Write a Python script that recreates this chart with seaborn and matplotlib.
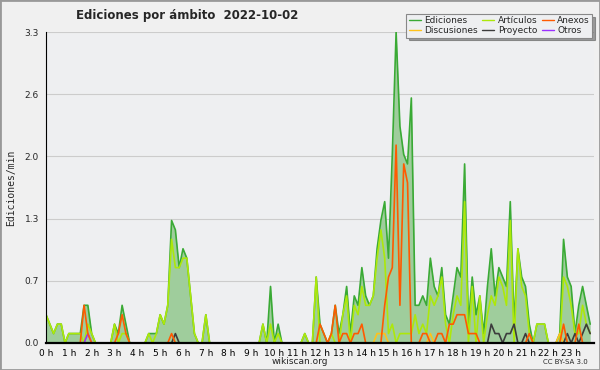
import numpy as np
import pandas as pd
import seaborn as sns
from matplotlib import pyplot as plt
from matplotlib.ticker import MultipleLocator, FixedLocator
from matplotlib.patches import Rectangle

# edits per minute, one value every 10 minutes (6 per hour)
ediciones = [
    0.3, 0.2, 0.1, 0.2, 0.2, 0.0,   0.1, 0.1, 0.1, 0.1, 0.4, 0.4,
    0.1, 0.0, 0.0, 0.0, 0.0, 0.0,   0.2, 0.1, 0.4, 0.2, 0.0, 0.0,
    0.0, 0.0, 0.0, 0.1, 0.1, 0.1,   0.3, 0.2, 0.4, 1.3, 1.2, 0.8,
    1.0, 0.9, 0.5, 0.1, 0.0, 0.0,   0.3, 0.0, 0.0, 0.0, 0.0, 0.0,
    0.0, 0.0, 0.0, 0.0, 0.0, 0.0,   0.0, 0.0, 0.0, 0.2, 0.0, 0.6,
    0.0, 0.2, 0.0, 0.0, 0.0, 0.0,   0.0, 0.0, 0.1, 0.0, 0.0, 0.7,
    0.2, 0.1, 0.0, 0.1, 0.4, 0.1,   0.3, 0.6, 0.1, 0.5, 0.4, 0.8,
    0.5, 0.4, 0.5, 1.0, 1.3, 1.5,   0.9, 2.0, 3.3, 2.3, 2.0, 1.9,
    2.6, 0.4, 0.4, 0.5, 0.4, 0.9,   0.6, 0.5, 0.8, 0.3, 0.2, 0.5,
    0.8, 0.7, 1.9, 0.2, 0.7, 0.3,   0.5, 0.1, 0.6, 1.0, 0.5, 0.8,
    0.7, 0.6, 1.5, 0.2, 1.0, 0.7,   0.6, 0.2, 0.0, 0.2, 0.2, 0.2,
    0.0, 0.0, 0.0, 0.1, 1.1, 0.7,   0.6, 0.1, 0.4, 0.6, 0.4, 0.2,
]
articulos = [
    0.3, 0.2, 0.1, 0.2, 0.2, 0.0,   0.1, 0.1, 0.1, 0.1, 0.0, 0.2,
    0.1, 0.0, 0.0, 0.0, 0.0, 0.0,   0.2, 0.0, 0.1, 0.1, 0.0, 0.0,
    0.0, 0.0, 0.0, 0.1, 0.0, 0.1,   0.3, 0.2, 0.4, 1.1, 0.8, 0.8,
    0.9, 0.9, 0.5, 0.1, 0.0, 0.0,   0.3, 0.0, 0.0, 0.0, 0.0, 0.0,
    0.0, 0.0, 0.0, 0.0, 0.0, 0.0,   0.0, 0.0, 0.0, 0.2, 0.0, 0.2,
    0.0, 0.1, 0.0, 0.0, 0.0, 0.0,   0.0, 0.0, 0.1, 0.0, 0.0, 0.7,
    0.0, 0.0, 0.0, 0.1, 0.0, 0.0,   0.3, 0.5, 0.0, 0.4, 0.3, 0.6,
    0.4, 0.4, 0.5, 0.9, 1.2, 0.9,   0.1, 0.2, 0.0, 0.1, 0.1, 0.1,
    0.1, 0.3, 0.1, 0.2, 0.1, 0.5,   0.4, 0.5, 0.7, 0.2, 0.0, 0.3,
    0.5, 0.4, 1.5, 0.0, 0.6, 0.0,   0.5, 0.0, 0.3, 0.5, 0.4, 0.7,
    0.6, 0.4, 1.3, 0.0, 1.0, 0.6,   0.5, 0.1, 0.0, 0.2, 0.2, 0.2,
    0.0, 0.0, 0.0, 0.0, 0.7, 0.6,   0.4, 0.1, 0.1, 0.4, 0.2, 0.1,
]
anexos = [
    0.0, 0.0, 0.0, 0.0, 0.0, 0.0,   0.0, 0.0, 0.0, 0.0, 0.4, 0.1,
    0.0, 0.0, 0.0, 0.0, 0.0, 0.0,   0.0, 0.1, 0.3, 0.1, 0.0, 0.0,
    0.0, 0.0, 0.0, 0.0, 0.0, 0.0,   0.0, 0.0, 0.0, 0.1, 0.0, 0.0,
    0.0, 0.0, 0.0, 0.0, 0.0, 0.0,   0.0, 0.0, 0.0, 0.0, 0.0, 0.0,
    0.0, 0.0, 0.0, 0.0, 0.0, 0.0,   0.0, 0.0, 0.0, 0.0, 0.0, 0.0,
    0.0, 0.0, 0.0, 0.0, 0.0, 0.0,   0.0, 0.0, 0.0, 0.0, 0.0, 0.0,
    0.2, 0.1, 0.0, 0.1, 0.4, 0.0,   0.1, 0.1, 0.0, 0.1, 0.1, 0.2,
    0.0, 0.0, 0.0, 0.0, 0.0, 0.4,   0.7, 0.8, 2.1, 0.4, 1.9, 1.7,
    0.0, 0.0, 0.0, 0.1, 0.1, 0.0,   0.0, 0.1, 0.1, 0.0, 0.2, 0.2,
    0.3, 0.3, 0.3, 0.1, 0.1, 0.1,   0.0, 0.0, 0.0, 0.0, 0.0, 0.0,
    0.0, 0.0, 0.0, 0.0, 0.0, 0.0,   0.0, 0.1, 0.0, 0.0, 0.0, 0.0,
    0.0, 0.0, 0.0, 0.0, 0.2, 0.0,   0.0, 0.0, 0.2, 0.0, 0.0, 0.0,
]
discusiones = [0.0] * 144
for i in [87, 88, 89, 101, 135]:
    discusiones[i] = 0.1
proyecto = [0.0] * 144
for i, v in {34: 0.1, 117: 0.2, 118: 0.1, 119: 0.1, 121: 0.1, 122: 0.1, 123: 0.2,
             126: 0.1, 137: 0.1, 139: 0.1, 141: 0.1, 142: 0.2, 143: 0.1}.items():
    proyecto[i] = v
otros = [0.0] * 144
otros[11] = 0.1

hours = np.arange(144) / 6
hour_labels = [f'{h} h' for h in range(24)]
y_ticks = [0, 0.66, 1.32, 1.98, 2.64, 3.3]
y_labels = ['0.0', '0.7', '1.3', '2.0', '2.6', '3.3']

series = {'Ediciones': ediciones, 'Artículos': articulos, 'Anexos': anexos,
          'Discusiones': discusiones, 'Proyecto': proyecto, 'Otros': otros}
df = pd.concat([pd.DataFrame({'hora': hours, 'valor': v, 'ambito': k}) for k, v in series.items()])

cdict = {'Ediciones': '#3aaa35', 'Artículos': '#ade80a', 'Anexos': '#ff5a00',
         'Discusiones': '#ffc21a', 'Proyecto': '#3c3c3c', 'Otros': '#9b30ff'}

sns.set_style('white', {'axes.facecolor': '#eeeff1', 'figure.facecolor': '#f0f0f0'})
plt.rcParams['font.family'] = ['DejaVu Sans']

fig = plt.figure(figsize=(6, 3.7), dpi=100)
ax = fig.add_axes([46 / 600, 1 - 343 / 370, 548 / 600, 311 / 370])

ax.fill_between(hours, ediciones, color='#9fcd9c', zorder=1, lw=0)
# total first, then the namespaces on top of it
draw_order = ['Ediciones', 'Artículos', 'Discusiones', 'Proyecto', 'Otros', 'Anexos']
for z, name in enumerate(draw_order):
    sns.lineplot(data=df[df['ambito'] == name], x='hora', y='valor', color=cdict[name],
                 lw=1.2, ax=ax, zorder=2 + z * 0.1, legend=False)

ax.set_xlim(0, 24)
ax.set_ylim(0, 3.3)
ax.set_xticks(range(24))
ax.set_xticklabels(hour_labels, fontsize=6.5)
ax.xaxis.set_minor_locator(MultipleLocator(1 / 6))
ax.set_yticks(y_ticks)
ax.set_yticklabels(y_labels, fontsize=6.5)
ax.yaxis.set_minor_locator(FixedLocator(np.arange(0, 3.31, 0.165)))
ax.tick_params(axis='x', which='both', direction='out', length=3, width=0.8, pad=1, colors='black')
ax.tick_params(axis='y', which='both', direction='out', length=4, width=0.8, pad=1)
ax.grid(axis='y', color='#cccccc', lw=0.8)
ax.set_axisbelow(True)
ax.set_xlabel('')
ax.set_ylabel('Ediciones/min', fontsize=7, family='DejaVu Sans Mono', labelpad=6)
for s in ['top', 'right']:
    ax.spines[s].set_visible(False)
for s in ['left', 'bottom']:
    ax.spines[s].set_color('black')
    ax.spines[s].set_zorder(10)
ax.spines['bottom'].set_linewidth(1.6)

labels = ['Ediciones', 'Discusiones', 'Artículos', 'Proyecto', 'Anexos', 'Otros']
handles = [plt.Line2D([], [], color=cdict[k], lw=1) for k in labels]
leg = fig.legend(handles, labels, ncol=3, loc='upper right', bbox_to_anchor=(0.995, 0.975),
                 fontsize=6.5, frameon=True, fancybox=False, shadow=True, handlelength=1.3,
                 handletextpad=0.4, columnspacing=0.5, labelspacing=0.05, borderpad=0.3)
leg.get_frame().set_edgecolor('#888888')
leg.get_frame().set_linewidth(0.8)

fig.text(187 / 600, 1 - 16 / 370, 'Ediciones por ámbito  2022-10-02', ha='center', va='center',
         fontsize=8.5, fontweight='bold')
fig.text(300 / 600, 1 - 361 / 370, 'wikiscan.org', ha='center', va='center', fontsize=6.5)
fig.text(565 / 600, 1 - 362 / 370, 'CC BY-SA 3.0', ha='center', va='center', fontsize=5)
fig.patches.append(Rectangle((0, 0), 1, 1, transform=fig.transFigure, fill=False,
                             edgecolor='#999999', lw=2))

fig.savefig('out.png', dpi=100)
